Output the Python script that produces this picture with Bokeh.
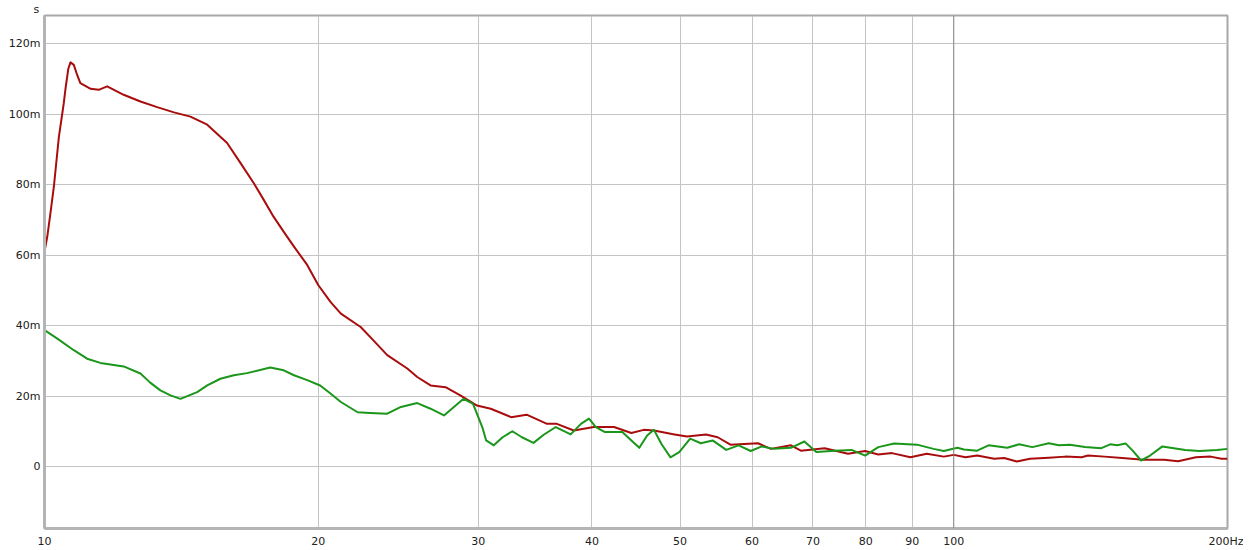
from bokeh.plotting import figure
from bokeh.models import FixedTicker, Range1d, Span, Title
from bokeh.embed import file_html
from bokeh.resources import INLINE

# frequency (Hz) / group delay (ms)
red_freq = [10.0, 10.07, 10.15, 10.24, 10.37, 10.5, 10.55, 10.62, 10.68, 10.77, 10.86, 10.95,
            11.24, 11.47, 11.72, 12.22, 12.75, 13.3, 13.88, 14.47, 15.1, 15.88,
            16.43, 16.99, 17.43, 17.86, 18.33, 18.81, 19.45, 20.0, 20.63, 21.18,
            22.27, 23.0, 23.82, 25.06, 25.7, 26.58, 27.61, 28.66, 29.9, 30.96,
            32.6, 33.9, 35.7, 36.6, 38.2, 40.2, 42.3, 44.2, 45.6, 46.8, 49.3,
            50.9, 53.4, 55.0, 56.8, 60.9, 62.9, 66.2, 67.9, 72.1, 76.5, 79.9,
            82.6, 85.5, 89.6, 93.4, 97.5, 100.0, 103.0, 106.1, 110.8, 113.6,
            117.3, 121.3, 127.2, 132.6, 138.2, 140.5, 146.5, 153.2, 161.5,
            170.3, 176.5, 184.6, 191.6, 197.0, 200.0]
red_ms = [61.0, 65.2, 71.8, 79.4, 93.5, 103.1, 107.5, 112.8, 114.7, 114.0, 111.2, 108.8,
          107.2, 106.9, 107.9, 105.5, 103.6, 102.0, 100.5, 99.3, 97.0, 91.8,
          86.1, 80.4, 75.6, 70.9, 66.6, 62.4, 57.2, 51.5, 46.7, 43.4,
          39.6, 35.8, 31.6, 27.8, 25.4, 23.0, 22.5, 20.2, 17.3, 16.4,
          14.0, 14.7, 12.1, 12.1, 10.2, 11.2, 11.2, 9.5, 10.4, 10.2, 9.1,
          8.5, 9.1, 8.3, 6.2, 6.6, 5.0, 6.0, 4.5, 5.2, 3.6, 4.4,
          3.4, 3.8, 2.6, 3.6, 2.8, 3.3, 2.6, 3.1, 2.2, 2.4,
          1.4, 2.2, 2.5, 2.8, 2.6, 3.1, 2.8, 2.4, 1.9,
          1.9, 1.5, 2.6, 2.8, 2.2, 2.2]

green_freq = [10.0, 10.33, 10.77, 11.14, 11.52, 12.22, 12.75, 13.07, 13.41, 13.76,
              14.11, 14.72, 15.1, 15.61, 16.15, 16.7, 17.71, 18.33, 18.81, 19.45,
              20.1, 20.63, 21.18, 22.1, 22.8, 23.82, 24.66, 25.7, 26.58, 27.5,
              28.2, 28.9, 29.6, 30.3, 30.6, 31.2, 31.9, 32.7, 33.5, 34.5, 35.4,
              36.5, 37.9, 38.9, 39.7, 40.4, 41.3, 43.2, 44.2, 45.1, 46.0, 46.8,
              47.7, 48.8, 49.9, 51.3, 52.7, 54.3, 56.2, 58.0, 59.8, 61.5, 63.4,
              66.2, 68.5, 70.6, 74.0, 77.2, 79.9, 82.6, 86.0, 91.1, 95.0, 97.5,
              100.9, 102.6, 106.1, 109.2, 114.5, 118.0, 122.0, 127.2, 130.5,
              134.2, 139.4, 145.3, 148.6, 151.2, 154.6, 157.3, 160.7, 164.4,
              169.6, 179.7, 186.3, 194.8, 200.0]
green_ms = [38.7, 36.3, 33.0, 30.6, 29.4, 28.4, 26.4, 23.8, 21.6, 20.2,
            19.2, 21.1, 23.0, 24.9, 25.9, 26.5, 28.1, 27.3, 25.9, 24.5,
            23.0, 20.7, 18.3, 15.4, 15.2, 15.0, 16.9, 18.0, 16.4, 14.5,
            16.9, 19.2, 17.8, 11.2, 7.4, 6.0, 8.3, 10.0, 8.3, 6.7, 9.0,
            11.2, 9.1, 12.1, 13.6, 11.2, 9.8, 9.8, 7.4, 5.3, 8.8, 10.4,
            6.4, 2.6, 4.1, 7.9, 6.6, 7.4, 4.7, 6.0, 4.4, 5.7, 5.0,
            5.3, 7.1, 4.1, 4.5, 4.7, 3.1, 5.5, 6.5, 6.2, 5.0, 4.4,
            5.3, 4.8, 4.5, 6.0, 5.3, 6.3, 5.5, 6.6, 6.0,
            6.2, 5.5, 5.2, 6.3, 6.0, 6.5, 4.5, 1.7, 3.1,
            5.7, 4.7, 4.4, 4.7, 5.0]

x_ticks = [10, 20, 30, 40, 50, 60, 70, 80, 90, 100, 200]
x_labels = ["10", "20", "30", "40", "50", "60", "70", "80", "90", "100", "200Hz"]
y_ticks = [0, 20, 40, 60, 80, 100, 120]
y_labels = ["0", "20m", "40m", "60m", "80m", "100m", "120m"]

p = figure(x_axis_type="log", frame_width=1183, frame_height=513,
           min_border_left=44, min_border_right=16, min_border_top=14, min_border_bottom=10,
           x_range=Range1d(10, 200), y_range=Range1d(-17.6, 128),
           output_backend="svg", toolbar_location=None)

p.background_fill_color = "white"
p.outline_line_color = "#a8a8a8"
p.outline_line_width = 2

p.xaxis.ticker = FixedTicker(ticks=x_ticks)
p.xaxis.major_label_overrides = dict(zip(x_ticks, x_labels))
p.yaxis.ticker = FixedTicker(ticks=y_ticks)
p.yaxis.major_label_overrides = dict(zip(y_ticks, y_labels))
p.xaxis.minor_tick_line_color = None
p.yaxis.minor_tick_line_color = None
for ax in (p.xaxis, p.yaxis):
    ax.major_tick_out = 0
    ax.major_tick_in = 0
    ax.axis_line_color = "#b4b4b4"
    ax.axis_line_width = 3
    ax.major_label_text_font = "DejaVu Sans"
    ax.major_label_text_font_size = "11px"
    ax.major_label_text_color = "#202020"
p.xaxis.major_label_standoff = 6
p.yaxis.major_label_standoff = 4

p.xgrid.grid_line_color = "#c4c4c4"
p.ygrid.grid_line_color = "#c4c4c4"
p.xgrid.minor_grid_line_color = None

# darker line at 100 Hz
p.add_layout(Span(location=100, dimension="height", line_color="#8a8a8a", line_width=1))

p.line(red_freq, red_ms, line_color="#a80c0c", line_width=2, line_join="round")
p.line(green_freq, green_ms, line_color="#1a961a", line_width=2, line_join="round")

# unit label above the y axis
p.add_layout(Title(text="s", align="left", offset=-11, standoff=0,
                   text_font="DejaVu Sans", text_font_size="11px",
                   text_font_style="normal", text_color="#202020"), "above")

open("out.html", "w").write(file_html(p, INLINE))
